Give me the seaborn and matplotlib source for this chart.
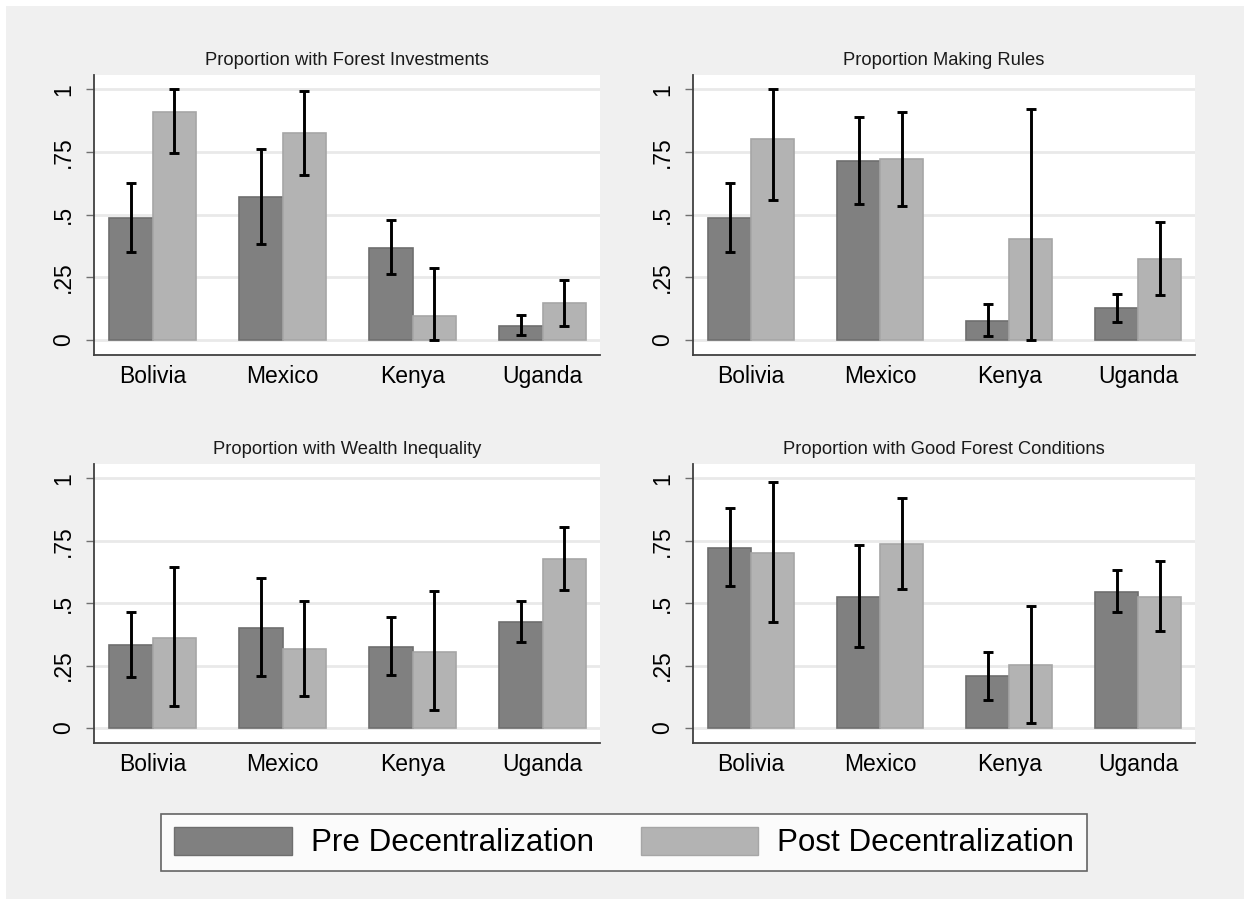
import numpy as np
import pandas as pd
import matplotlib
matplotlib.use("Agg")
import matplotlib.pyplot as plt
from matplotlib.patches import Patch, Rectangle
import seaborn as sns

sns.set_theme(style="white")
plt.rcParams["font.family"] = ["Liberation Sans", "DejaVu Sans"]

COUNTRIES = ["Bolivia", "Mexico", "Kenya", "Uganda"]
PERIODS = ["Pre Decentralization", "Post Decentralization"]
YTICKS = [0, 0.25, 0.5, 0.75, 1]
YTICKLABELS = ["0", ".25", ".5", ".75", "1"]

# forest investments
invest_pre = [0.488, 0.570, 0.366, 0.057]
invest_pre_lo = [0.352, 0.383, 0.262, 0.021]
invest_pre_hi = [0.625, 0.762, 0.479, 0.101]
invest_post = [0.909, 0.824, 0.097, 0.146]
invest_post_lo = [0.745, 0.658, 0.0, 0.056]
invest_post_hi = [1.0, 0.992, 0.286, 0.239]

# making rules
rules_pre = [0.485, 0.715, 0.077, 0.128]
rules_pre_lo = [0.350, 0.543, 0.016, 0.070]
rules_pre_hi = [0.628, 0.891, 0.145, 0.185]
rules_post = [0.801, 0.721, 0.402, 0.322]
rules_post_lo = [0.557, 0.533, 0.0, 0.180]
rules_post_hi = [1.0, 0.911, 0.923, 0.471]

# wealth inequality
wealth_pre = [0.332, 0.402, 0.326, 0.426]
wealth_pre_lo = [0.204, 0.209, 0.213, 0.344]
wealth_pre_hi = [0.465, 0.599, 0.443, 0.509]
wealth_post = [0.362, 0.317, 0.306, 0.675]
wealth_post_lo = [0.089, 0.129, 0.073, 0.553]
wealth_post_hi = [0.643, 0.509, 0.549, 0.804]

# good forest conditions
cond_pre = [0.720, 0.526, 0.208, 0.546]
cond_pre_lo = [0.567, 0.324, 0.113, 0.463]
cond_pre_hi = [0.879, 0.734, 0.304, 0.634]
cond_post = [0.700, 0.735, 0.252, 0.526]
cond_post_lo = [0.423, 0.557, 0.020, 0.387]
cond_post_hi = [0.983, 0.921, 0.489, 0.667]

panels = [
    ("Proportion with Forest Investments",
     invest_pre, invest_pre_lo, invest_pre_hi, invest_post, invest_post_lo, invest_post_hi),
    ("Proportion Making Rules",
     rules_pre, rules_pre_lo, rules_pre_hi, rules_post, rules_post_lo, rules_post_hi),
    ("Proportion with Wealth Inequality",
     wealth_pre, wealth_pre_lo, wealth_pre_hi, wealth_post, wealth_post_lo, wealth_post_hi),
    ("Proportion with Good Forest Conditions",
     cond_pre, cond_pre_lo, cond_pre_hi, cond_post, cond_post_lo, cond_post_hi),
]

fill = ["#808080", "#b3b3b3"]
edge = ["#6e6e6e", "#a6a6a6"]

W, H = 1244, 899
fig = plt.figure(figsize=(W / 100, H / 100), dpi=100)
fig.patch.set_facecolor("white")
fig.patches.append(Rectangle((6 / W, 0), 1, 1 - 6 / H, transform=fig.transFigure,
                             facecolor="#f0f0f0", edgecolor="none", zorder=-10))

# axes boxes in pixels: left, top, right, bottom
boxes = [(94, 75, 600, 355), (693, 75, 1195, 355),
         (94, 464, 600, 743), (693, 464, 1195, 743)]

for (title, pre, pre_lo, pre_hi, post, post_lo, post_hi), (l, t, r, b) in zip(panels, boxes):
    ax = fig.add_axes([l / W, 1 - b / H, (r - l) / W, (b - t) / H])
    df = pd.DataFrame({
        "country": COUNTRIES * 2,
        "period": [PERIODS[0]] * 4 + [PERIODS[1]] * 4,
        "value": pre + post,
    })
    sns.barplot(data=df, x="country", y="value", hue="period", order=COUNTRIES,
                hue_order=PERIODS, palette=fill, width=0.667, errorbar=None,
                saturation=1, legend=False, ax=ax, linewidth=1.2, zorder=2)
    for k, (vals, lo, hi) in enumerate([(pre, pre_lo, pre_hi), (post, post_lo, post_hi)]):
        cont = ax.containers[k]
        xs = []
        for bar in cont:
            bar.set_edgecolor(edge[k])
            xs.append(bar.get_x() + bar.get_width() / 2)
        vals = np.array(vals)
        yerr = [vals - np.array(lo), np.array(hi) - vals]
        ax.errorbar(xs, vals, yerr=yerr, fmt="none", ecolor="black",
                    elinewidth=2.1, capsize=3.4, capthick=2.1, zorder=3)

    ax.set_facecolor("white")
    ax.set_xlim(-0.45, 3.44)
    ax.set_ylim(-0.06, 1.057)
    ax.set_yticks(YTICKS)
    ax.set_yticklabels(YTICKLABELS, rotation=90, va="center")
    ax.yaxis.grid(True, color="#e9e9e9", linewidth=2.0)
    ax.set_axisbelow(True)
    ax.tick_params(axis="y", length=6, width=1, color="#707070", pad=7.5, left=True,
                   labelsize=16.5, labelcolor="black")
    ax.tick_params(axis="x", length=0, pad=7, labelsize=16.5, labelcolor="black")
    ax.set_xlabel("")
    ax.set_ylabel("")
    for side in ["top", "right"]:
        ax.spines[side].set_visible(False)
    for side in ["left", "bottom"]:
        ax.spines[side].set_color("#404040")
        ax.spines[side].set_linewidth(1.3)
    ax.set_title(title, fontsize=13.2, pad=7, color="#1a1a1a")

handles = [Patch(facecolor=fill[i], edgecolor=edge[i], label=PERIODS[i]) for i in range(2)]
leg = fig.legend(handles=handles, loc="center", bbox_to_anchor=(624 / W, 1 - 842.5 / H),
                 ncol=2, fontsize=22.6, frameon=True, fancybox=False,
                 handlelength=3.75, handleheight=1.0, handletextpad=0.6,
                 columnspacing=1.5, borderpad=0.4, edgecolor="#404040")
leg.get_frame().set_linewidth(1.2)
leg.get_frame().set_facecolor("white")
for txt in leg.get_texts():
    txt.set_color("black")

fig.savefig("out.png", dpi=100, facecolor=fig.get_facecolor())
